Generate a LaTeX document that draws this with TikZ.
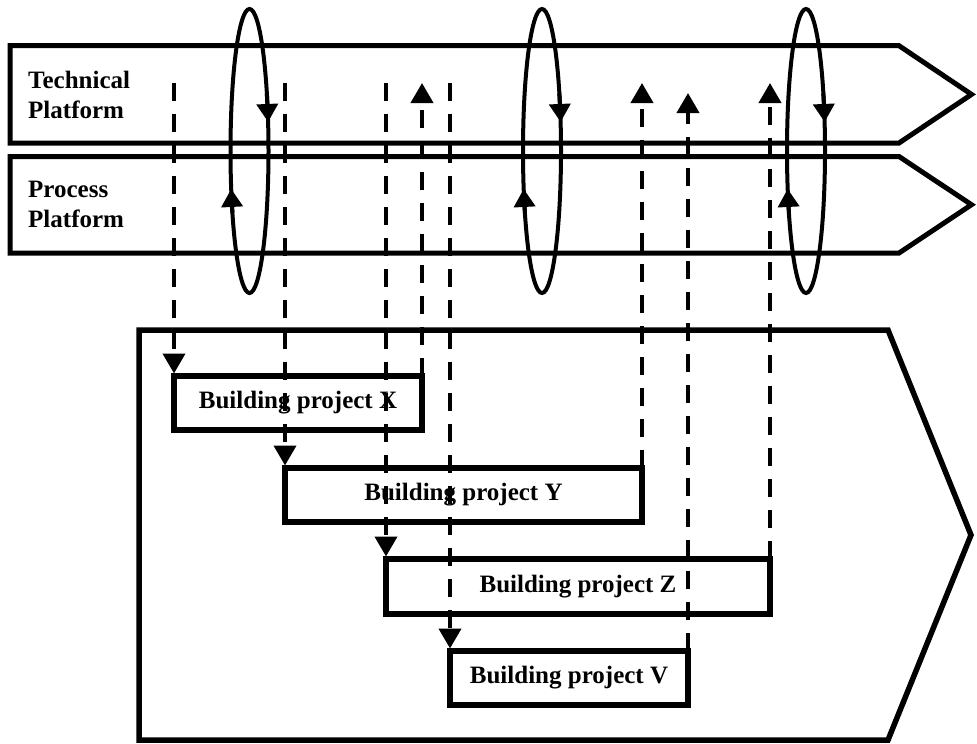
\documentclass[tikz,border=0pt]{standalone}
\usepackage{fontspec}
\setmainfont{Liberation Serif}
\usetikzlibrary{arrows.meta,calc}
\begin{document}
\begin{tikzpicture}[x=1pt,y=-1pt,
  platform/.style={draw, line width=5pt, line join=miter},
  frame/.style={draw, line width=5.5pt, line join=miter},
  box/.style={draw, line width=5.5pt, outer sep=0pt, inner sep=0pt, font=\fontsize{25}{30}\selectfont\bfseries},
  lbl/.style={font=\fontsize{25}{30}\selectfont\bfseries, align=left, inner sep=0pt, anchor=west},
  loop/.style={draw, line width=4pt},
  looptip/.style={line width=4pt, -{Triangle[width=21pt,length=18pt]}},
  flow/.style={line width=4pt, dash pattern=on 18pt off 13pt, -{Triangle[width=22pt,length=20pt]}}
]
\useasboundingbox (0,0) rectangle (977,744);

% platforms
\draw[platform] (10,45.7) -- (899,45.7) -- (971.5,94.4) -- (899,143) -- (10,143) -- cycle;
\draw[platform] (10,156.5) -- (899,156.5) -- (971.5,204.7) -- (899,253) -- (10,253) -- cycle;
\node[lbl] (tech) at (28,94.5) {Technical\\Platform};
\node[lbl] (proc) at (28,204.5) {Process\\Platform};

% big frame
\draw[frame] (139,330) -- (888,330) -- (971,535) -- (888,740) -- (139,740) -- cycle;

% loops
\foreach \n/\cx in {E1/249.5, E2/542, E3/806}{
  \coordinate (\n) at (\cx,151);
  \draw[loop] (\n) ellipse [x radius=19, y radius=142];
  \draw[looptip] ($(\n)+(-24:19 and 142)$) -- ($(\n)+(-11.8:19 and 142)$);
  \draw[looptip] ($(\n)+(154:19 and 142)$) -- ($(\n)+(164.5:19 and 142)$);
}

% project boxes
\node[box, minimum width=248pt, minimum height=54pt] (X) at (298,403) {Building project X};
\node[box, minimum width=357pt, minimum height=54pt] (Y) at (463.5,495) {Building project Y};
\node[box, minimum width=384pt, minimum height=55pt] (Z) at (578,586.5) {Building project Z};
\node[box, minimum width=238pt, minimum height=54pt] (V) at (569,678) {Building project V};

% dashed flows
\coordinate (top) at (0,83);
\coordinate (topv) at (0,93);
\draw[flow, shorten >=2.5pt] (X.north west |- top) -- (X.north west);
\draw[flow, shorten >=2.5pt] (Y.north west |- top) -- (Y.north west);
\draw[flow, shorten >=2.5pt] (Z.north west |- top) -- (Z.north west);
\draw[flow, shorten >=2.5pt] (V.north west |- top) -- (V.north west);
\draw[flow] (X.north east) -- (X.north east |- top);
\draw[flow] (Y.north east) -- (Y.north east |- top);
\draw[flow] (V.north east) -- (V.north east |- topv);
\draw[flow] (Z.north east) -- (Z.north east |- top);
\end{tikzpicture}
\end{document}
